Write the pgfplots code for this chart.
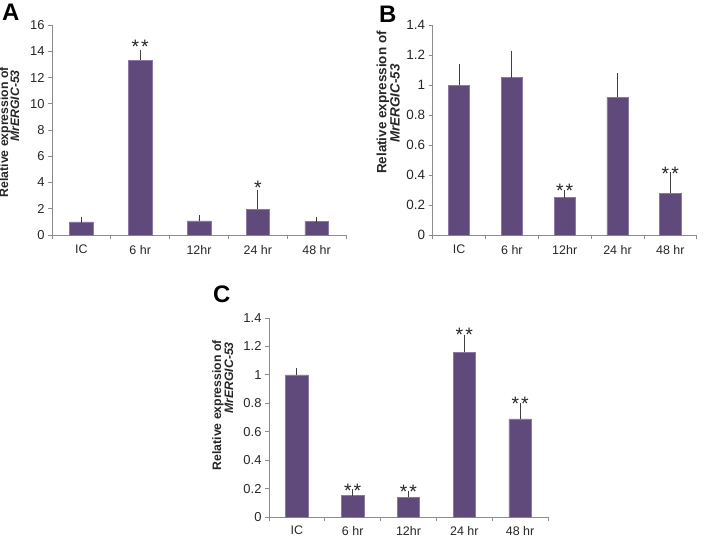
\documentclass[border=0pt]{standalone}
\usepackage{fontspec}
\setmainfont{Liberation Sans}
\usepackage{pgfplots}
\usepackage{pgfplotstable}
\pgfplotsset{compat=1.18}
\definecolor{barfill}{HTML}{604A7B}
\definecolor{baredge}{HTML}{8A78A8}
\definecolor{axgray}{HTML}{8C8C8C}
\definecolor{errc}{HTML}{3F3F3F}

\pgfplotstableread{
x y err
0 1.00 0.18
1 13.33 0.57
2 1.08 0.19
3 1.98 1.24
4 1.01 0.11
}\dataA
\pgfplotstableread{
x y err
0 1.00 0.12
1 1.05 0.16
2 0.25 0.03
3 0.92 0.14
4 0.28 0.12
}\dataB
\pgfplotstableread{
x y err
0 1.00 0.03
1 0.15 0.026
2 0.14 0.02
3 1.16 0.10
4 0.69 0.09
}\dataC

\pgfplotsset{
  panel/.style={
    scale only axis,
    anchor=south west,
    axis x line*=bottom, axis y line*=left,
    axis line style={axgray, line width=0.8bp},
    xmin=-0.5, xmax=4.5,
    xtick={0,1,2,3,4},
    xticklabels={IC,6 hr,12hr,24 hr,48 hr},
    major x tick style={draw=none},
    minor xtick={-0.5,0.5,1.5,2.5,3.5,4.5},
    minor x tick style={axgray, line width=0.8bp},
    ytick style={axgray, line width=0.8bp},
    tick align=outside,
    major tick length=4bp, minor tick length=4bp,
    yticklabel style={font=\fontsize{13}{15}\selectfont, text=black!85},
    xticklabel style={font=\fontsize{12.5}{15}\selectfont, text=black!85, yshift=-2.5bp},
    /pgf/number format/assume math mode=true,
    ymin=0,
    ybar,
    bar width=0.4,
    clip=false,
  },
  barstyle/.style={fill=barfill, draw=baredge, line width=0.5bp,
    error bars/.cd, y dir=plus, y explicit,
    error bar style={errc, line width=0.9bp},
    error mark options={errc, mark size=3bp, line width=0.9bp}},
}
\tikzset{sigstar/.style={anchor=base, yshift=-11.3bp, font=\fontsize{19.5}{22}\selectfont, text=black!85, inner sep=0}}

\begin{document}
\begin{tikzpicture}
\useasboundingbox (0,0) rectangle (708bp,-537bp);

% Panel A
\begin{axis}[panel, at={(52bp,-235bp)}, width=294bp, height=210bp,
  ymax=16, ytick={0,2,4,6,8,10,12,14,16}]
\addplot[barstyle] table[x=x, y=y, y error=err] {\dataA};
\node[sigstar] at (axis cs:1,14.67) {*\hspace{2bp}*};
\node[sigstar] at (axis cs:3,3.94) {*};
\end{axis}

% Panel B
\begin{axis}[panel, at={(432.7bp,-235bp)}, width=264bp, height=210bp,
  ymax=1.4, ytick={0,0.2,0.4,0.6,0.8,1,1.2,1.4},
  yticklabel style={font=\fontsize{13.5}{15}\selectfont}]
\addplot[barstyle] table[x=x, y=y, y error=err] {\dataB};
\node[sigstar] at (axis cs:2,0.327) {*\hspace{2bp}*};
\node[sigstar] at (axis cs:4,0.44) {*\hspace{2bp}*};
\end{axis}

% Panel C
\begin{axis}[panel, at={(269bp,-517bp)}, width=279bp, height=199bp,
  ymax=1.4, ytick={0,0.2,0.4,0.6,0.8,1,1.2,1.4},
  xticklabel style={yshift=1bp}]
\addplot[barstyle] table[x=x, y=y, y error=err] {\dataC};
\node[sigstar] at (axis cs:1,0.218) {*\hspace{2bp}*};
\node[sigstar] at (axis cs:2,0.212) {*\hspace{2bp}*};
\node[sigstar] at (axis cs:3,1.316) {*\hspace{2bp}*};
\node[sigstar] at (axis cs:4,0.83) {*\hspace{2bp}*};
\end{axis}

% Panel letters
\node[anchor=base west, inner sep=0, font=\bfseries\fontsize{24}{28}\selectfont] at (2bp,-20bp) {A};
\node[anchor=base west, inner sep=0, font=\bfseries\fontsize{24}{28}\selectfont] at (379bp,-22bp) {B};
\node[anchor=base west, inner sep=0, font=\bfseries\fontsize{24}{28}\selectfont] at (213bp,-302bp) {C};

% Y-axis labels
\begin{scope}[every node/.style={rotate=90, inner sep=0, text=black!85}]
\node[anchor=east, font=\bfseries\fontsize{12.3}{14}\selectfont] at (5bp,-67bp) {Relative expression of};
\node[anchor=east, font=\bfseries\itshape\fontsize{12.3}{14}\selectfont] at (15bp,-70bp) {MrERGIC-53};
\node[anchor=center, font=\bfseries\fontsize{13.5}{15}\selectfont] at (383bp,-102.5bp) {Relative expression of};
\node[anchor=center, font=\bfseries\itshape\fontsize{13.5}{15}\selectfont] at (395bp,-103.5bp) {MrERGIC-53};
\node[anchor=east, font=\bfseries\fontsize{12.3}{14}\selectfont] at (218bp,-340bp) {Relative expression of};
\node[anchor=east, font=\bfseries\itshape\fontsize{12.3}{14}\selectfont] at (229bp,-342bp) {MrERGIC-53};
\end{scope}
\end{tikzpicture}
\end{document}
